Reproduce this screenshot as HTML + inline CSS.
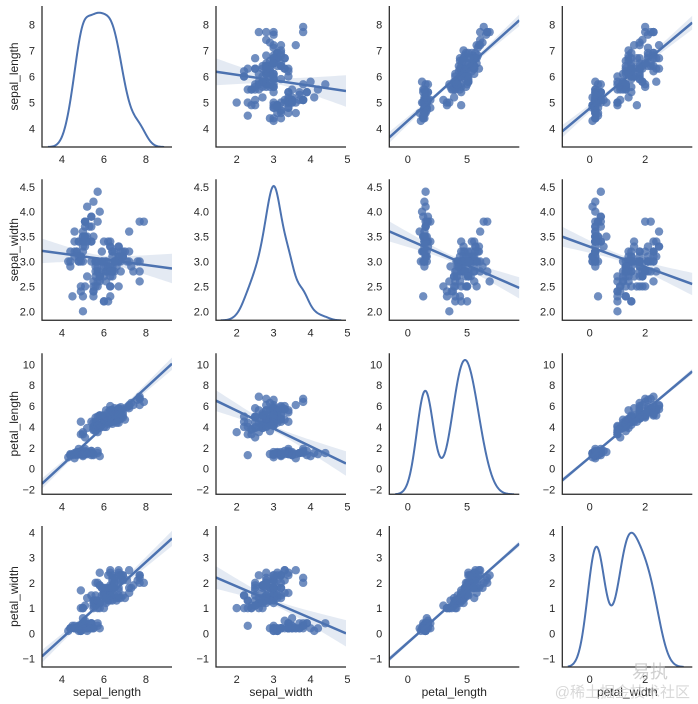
<!DOCTYPE html>
<html><head><meta charset="utf-8">
<style>
html,body{margin:0;padding:0;background:#fff;}
svg{display:block;font-family:"Liberation Sans","Noto Sans CJK SC",sans-serif;}
.tick{font-size:11px;fill:#262626;}
.lab{font-size:12px;fill:#262626;}
</style></head>
<body>
<svg id="chart" width="698" height="704" viewBox="0 0 698 704"></svg>
<script>
const varNames = ["sepal_length","sepal_width","petal_length","petal_width"];
const sepalLength = [5.1,4.9,4.7,4.6,5.0,5.4,4.6,5.0,4.4,4.9,5.4,4.8,4.8,4.3,5.8,5.7,5.4,5.1,5.7,5.1,5.4,5.1,4.6,5.1,4.8,5.0,5.0,5.2,5.2,4.7,4.8,5.4,5.2,5.5,4.9,5.0,5.5,4.9,4.4,5.1,5.0,4.5,4.4,5.0,5.1,4.8,5.1,4.6,5.3,5.0,
7.0,6.4,6.9,5.5,6.5,5.7,6.3,4.9,6.6,5.2,5.0,5.9,6.0,6.1,5.6,6.7,5.6,5.8,6.2,5.6,5.9,6.1,6.3,6.1,6.4,6.6,6.8,6.7,6.0,5.7,5.5,5.5,5.8,6.0,5.4,6.0,6.7,6.3,5.6,5.5,5.5,6.1,5.8,5.0,5.6,5.7,5.7,6.2,5.1,5.7,
6.3,5.8,7.1,6.3,6.5,7.6,4.9,7.3,6.7,7.2,6.5,6.4,6.8,5.7,5.8,6.4,6.5,7.7,7.7,6.0,6.9,5.6,7.7,6.3,6.7,7.2,6.2,6.1,6.4,7.2,7.4,7.9,6.4,6.3,6.1,7.7,6.3,6.4,6.0,6.9,6.7,6.9,5.8,6.8,6.7,6.7,6.3,6.5,6.2,5.9];
const sepalWidth = [3.5,3.0,3.2,3.1,3.6,3.9,3.4,3.4,2.9,3.1,3.7,3.4,3.0,3.0,4.0,4.4,3.9,3.5,3.8,3.8,3.4,3.7,3.6,3.3,3.4,3.0,3.4,3.5,3.4,3.2,3.1,3.4,4.1,4.2,3.1,3.2,3.5,3.1,3.0,3.4,3.5,2.3,3.2,3.5,3.8,3.0,3.8,3.2,3.7,3.3,
3.2,3.2,3.1,2.3,2.8,2.8,3.3,2.4,2.9,2.7,2.0,3.0,2.2,2.9,2.9,3.1,3.0,2.7,2.2,2.5,3.2,2.8,2.5,2.8,2.9,3.0,2.8,3.0,2.9,2.6,2.4,2.4,2.7,2.7,3.0,3.4,3.1,2.3,3.0,2.5,2.6,3.0,2.6,2.3,2.7,3.0,2.9,2.9,2.5,2.8,
3.3,2.7,3.0,2.9,3.0,3.0,2.5,2.9,2.5,3.6,3.2,2.7,3.0,2.5,2.8,3.2,3.0,3.8,2.6,2.2,3.2,2.8,2.8,2.7,3.3,3.2,2.8,3.0,2.8,3.0,2.8,3.8,2.8,2.8,2.6,3.0,3.4,3.1,3.0,3.1,3.1,3.1,2.7,3.2,3.3,3.0,2.5,3.0,3.4,3.0];
const petalLength = [1.4,1.4,1.3,1.5,1.4,1.7,1.4,1.5,1.4,1.5,1.5,1.6,1.4,1.1,1.2,1.5,1.3,1.4,1.7,1.5,1.7,1.5,1.0,1.7,1.9,1.6,1.6,1.5,1.4,1.6,1.6,1.5,1.5,1.4,1.5,1.2,1.3,1.5,1.3,1.5,1.3,1.3,1.3,1.6,1.9,1.4,1.6,1.4,1.5,1.4,
4.7,4.5,4.9,4.0,4.6,4.5,4.7,3.3,4.6,3.9,3.5,4.2,4.0,4.7,3.6,4.4,4.5,4.1,4.5,3.9,4.8,4.0,4.9,4.7,4.3,4.4,4.8,5.0,4.5,3.5,3.8,3.7,3.9,5.1,4.5,4.5,4.7,4.4,4.1,4.0,4.4,4.6,4.0,3.3,4.2,4.2,4.2,4.3,3.0,4.1,
6.0,5.1,5.9,5.6,5.8,6.6,4.5,6.3,5.8,6.1,5.1,5.3,5.5,5.0,5.1,5.3,5.5,6.7,6.9,5.0,5.7,4.9,6.7,4.9,5.7,6.0,4.8,4.9,5.6,5.8,6.1,6.4,5.6,5.1,5.6,6.1,5.6,5.5,4.8,5.4,5.6,5.1,5.1,5.9,5.7,5.2,5.0,5.2,5.4,5.1];
const petalWidth = [0.2,0.2,0.2,0.2,0.2,0.4,0.3,0.2,0.2,0.1,0.2,0.2,0.1,0.1,0.2,0.4,0.4,0.3,0.3,0.3,0.2,0.4,0.2,0.5,0.2,0.2,0.4,0.2,0.2,0.2,0.2,0.4,0.1,0.2,0.1,0.2,0.2,0.1,0.2,0.2,0.3,0.3,0.2,0.6,0.4,0.3,0.2,0.2,0.2,0.2,
1.4,1.5,1.5,1.3,1.5,1.3,1.6,1.0,1.3,1.4,1.0,1.5,1.0,1.4,1.3,1.4,1.5,1.0,1.5,1.1,1.8,1.3,1.5,1.2,1.3,1.4,1.4,1.7,1.5,1.0,1.1,1.0,1.2,1.6,1.5,1.6,1.5,1.3,1.3,1.3,1.2,1.4,1.2,1.0,1.3,1.2,1.3,1.3,1.1,1.3,
2.5,1.9,2.1,1.8,2.2,2.1,1.7,1.8,1.8,2.5,2.0,1.9,2.1,2.0,2.4,2.3,1.8,2.2,2.3,1.5,2.3,2.0,2.0,1.8,2.1,1.8,1.8,1.8,2.1,1.6,1.9,2.0,2.2,1.5,1.4,2.3,2.4,1.8,1.8,2.1,2.4,2.3,1.9,2.3,2.5,2.3,1.9,2.0,2.3,1.8];
const xTicks = [[4,6,8],[2,3,4,5],[0,5],[0,2]];
const yTicks = [[4,5,6,7,8],[2.0,2.5,3.0,3.5,4.0,4.5],[-2,0,2,4,6,8,10],[-1,0,1,2,3,4]];
const yTickDecimals = [0,1,0,0];
const xLims = [[3.05,9.24],[1.44,4.96],[-1.56,9.4],[-0.99,3.7]];
const yLims = [[3.3,8.7],[1.82,4.65],[-2.45,11.06],[-1.33,4.25]];

const data = [sepalLength, sepalWidth, petalLength, petalWidth];
const NS = "http://www.w3.org/2000/svg";
const svg = document.getElementById("chart");
const colL = [42,216,389.3,562.3], AW = 130;
const rowT = [6,179.3,353.3,526], AH = 141;
const C = "#4c72b0";
function mk(tag, attrs, parent){const e=document.createElementNS(NS,tag);for(const k in attrs)e.setAttribute(k,attrs[k]);(parent||svg).appendChild(e);return e;}
function mean(a){return a.reduce((s,v)=>s+v,0)/a.length;}
function std(a){const m=mean(a);return Math.sqrt(a.reduce((s,v)=>s+(v-m)*(v-m),0)/(a.length-1));}
function quant(a,q){const s=[...a].sort((x,y)=>x-y);const p=(s.length-1)*q;const i=Math.floor(p);return s[i]+(s[Math.min(i+1,s.length-1)]-s[i])*(p-i);}

const defs = mk("defs",{});
for(let r=0;r<4;r++){for(let c=0;c<4;c++){
  const x0=colL[c], y0=rowT[r];
  const cp=mk("clipPath",{id:`clip-${r}-${c}`},defs);
  mk("rect",{x:x0,y:y0,width:AW,height:AH},cp);
  const xs=v=>x0+(v-xLims[c][0])/(xLims[c][1]-xLims[c][0])*AW;
  const ys=v=>y0+AH-(v-yLims[r][0])/(yLims[r][1]-yLims[r][0])*AH;
  const g=mk("g",{"clip-path":`url(#clip-${r}-${c})`});
  
  
  if(r===c){
    const d=data[c], n=d.length;
    const A=Math.min(std(d),(quant(d,0.75)-quant(d,0.25))/1.349);
    const bw=1.059*A*Math.pow(n,-0.2);
    const lo=Math.min(...d)-3*bw, hi=Math.max(...d)+3*bw;
    const pts=[];let mx=0;
    for(let i=0;i<=200;i++){const x=lo+(hi-lo)*i/200;let s=0;for(const v of d){const z=(x-v)/bw;s+=Math.exp(-0.5*z*z);}s/=n*bw*Math.sqrt(2*Math.PI);pts.push([x,s]);if(s>mx)mx=s;}
    const top=mx*1.05;
    const path=pts.map((p,i)=>(i?"L":"M")+xs(p[0]).toFixed(2)+","+(y0+AH-p[1]/top*AH).toFixed(2)).join("");
    const k=mk("path",{d:path,fill:"none",stroke:C,"stroke-width":2},g);
    
    
  } else {
    const X=data[c], Y=data[r], n=X.length;
    const mx=mean(X), my=mean(Y);
    let sxx=0,sxy=0;for(let i=0;i<n;i++){sxx+=(X[i]-mx)**2;sxy+=(X[i]-mx)*(Y[i]-my);}
    const b=sxy/sxx, a=my-b*mx;
    let sse=0;for(let i=0;i<n;i++){sse+=(Y[i]-a-b*X[i])**2;}
    const s=Math.sqrt(sse/(n-2)), t=1.976;
    const up=[],dn=[];
    for(let i=0;i<=60;i++){const x=xLims[c][0]+(xLims[c][1]-xLims[c][0])*i/60;const yh=a+b*x;const h=t*s*Math.sqrt(1/n+(x-mx)**2/sxx);up.push([xs(x),ys(yh+h)]);dn.push([xs(x),ys(yh-h)]);}
    const bd="M"+up.map(p=>p[0].toFixed(2)+","+p[1].toFixed(2)).join("L")+"L"+dn.reverse().map(p=>p[0].toFixed(2)+","+p[1].toFixed(2)).join("L")+"Z";
    const band=mk("path",{d:bd,fill:C,"fill-opacity":0.15,stroke:"none"},g);
    
    
    for(let i=0;i<n;i++){
      const pt=mk("circle",{cx:xs(X[i]).toFixed(2),cy:ys(Y[i]).toFixed(2),r:4.2,fill:C,"fill-opacity":0.8},g);
      
      
    }
    const ln=mk("line",{x1:xs(xLims[c][0]),y1:ys(a+b*xLims[c][0]),x2:xs(xLims[c][1]),y2:ys(a+b*xLims[c][1]),stroke:C,"stroke-width":2.5},g);
    
    
  }
  const sp=mk("path",{d:`M${x0},${y0}V${y0+AH}H${x0+AW}`,fill:"none",stroke:"#262626","stroke-width":1.25});
  
  
  for(const tv of xTicks[c]){
    const tx=mk("text",{x:xs(tv),y:y0+AH+16,"text-anchor":"middle",class:"tick"});tx.textContent=String(tv);
    
    
  }
  for(const tv of yTicks[r]){
    const ty=mk("text",{x:x0-7,y:ys(tv)+4,"text-anchor":"end",class:"tick"});ty.textContent=tv.toFixed(yTickDecimals[r]).replace("-","\u2212");
    
    
  }
}}
for(let r=0;r<4;r++){
  const cy=rowT[r]+AH/2;
  const t=mk("text",{x:0,y:0,transform:`translate(18,${cy}) rotate(-90)`,"text-anchor":"middle",class:"lab"});t.textContent=varNames[r];
  
  
}
for(let c=0;c<4;c++){
  const t=mk("text",{x:colL[c]+AW/2,y:696,"text-anchor":"middle",class:"lab"});t.textContent=varNames[c];
  
  
}
const wm=mk("text",{x:690,y:697,"text-anchor":"end","font-size":"15px",fill:"#c8c8c8","fill-opacity":0.7});
wm.textContent="@稀土掘金技术社区";


const wm2=mk("text",{x:668,y:678,"text-anchor":"end","font-size":"18px",fill:"#bbbbbb","fill-opacity":0.7});
wm2.textContent="易执";


</script>
</body></html>
